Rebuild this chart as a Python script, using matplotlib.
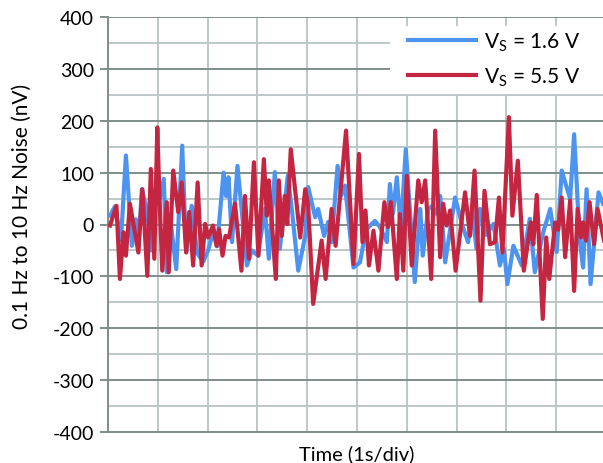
import matplotlib
matplotlib.use("Agg")
import matplotlib.pyplot as plt
from matplotlib.patches import Rectangle
from matplotlib.ticker import MultipleLocator, NullFormatter

plt.rcParams['font.family'] = ['Lato', 'DejaVu Sans']
plt.rcParams['mathtext.fontset'] = 'custom'
plt.rcParams['mathtext.rm'] = 'Lato'
plt.rcParams['axes.unicode_minus'] = False

# Tempo (s) e ruido (nV)
t_16 = [0.04, 0.14, 0.26, 0.36, 0.48, 0.56, 0.61, 0.68, 0.78, 0.87, 0.94, 1.04,
        1.12, 1.18, 1.27, 1.37, 1.49, 1.57, 1.68, 1.79, 1.91, 2.01, 2.11, 2.19,
        2.32, 2.37, 2.42, 2.49, 2.60, 2.79, 2.89, 3.01, 3.15, 3.23, 3.35, 3.45,
        3.61, 3.69, 3.82, 3.96, 4.02, 4.16, 4.22, 4.34, 4.42, 4.49, 4.61, 4.68,
        4.76, 4.93, 5.06, 5.18, 5.36, 5.46, 5.60, 5.66, 5.72, 5.80, 5.88, 5.98,
        6.16, 6.27, 6.32, 6.43, 6.51, 6.60, 6.67, 6.77, 6.97, 7.11, 7.23, 7.31,
        7.40, 7.47, 7.59, 7.74, 7.87, 7.95, 8.02, 8.14, 8.31, 8.47, 8.57, 8.74,
        8.88, 9.01, 9.11, 9.28, 9.36, 9.47, 9.54, 9.61, 9.69, 9.85, 9.94]
ruido_16 = [17, 35, -30, 133, -41, 10, -45, 68, 30, -50, 63, 52,
            88, -92, -5, -86, 152, -53, 36, -55, -72, -50, -15, -42,
            100, 55, 91, -34, 113, -79, -50, -60, 30, -66, 101, -47,
            94, 30, -89, -22, 72, 14, 30, -22, 5, -34, 113, 55,
            75, -83, -73, -10, 7, -5, -34, 78, 20, 91, -10, 145,
            -111, 30, -60, 30, 36, 20, 55, -73, 52, 0, -34, 30,
            -47, 30, -20, 1, -79, -47, -115, -41, -79, 11, -92, -15,
            30, -53, 104, 49, 174, -28, -83, 68, -115, 62, 40]

t_55 = [0.04, 0.17, 0.24, 0.31, 0.36, 0.44, 0.61, 0.69, 0.79, 0.86, 0.93, 0.99,
        1.03, 1.09, 1.18, 1.22, 1.31, 1.41, 1.48, 1.57, 1.63, 1.71, 1.80, 1.88,
        1.95, 2.01, 2.11, 2.18, 2.23, 2.30, 2.36, 2.43, 2.55, 2.68, 2.75, 2.83,
        2.93, 3.02, 3.13, 3.19, 3.23, 3.37, 3.43, 3.49, 3.55, 3.60, 3.67, 3.86,
        3.96, 4.02, 4.12, 4.29, 4.37, 4.49, 4.57, 4.78, 4.93, 5.04, 5.11, 5.17,
        5.24, 5.33, 5.43, 5.55, 5.62, 5.68, 5.80, 5.86, 5.93, 6.00, 6.10, 6.23,
        6.30, 6.37, 6.49, 6.57, 6.67, 6.73, 6.80, 6.87, 6.98, 7.17, 7.27, 7.36,
        7.48, 7.56, 7.67, 7.77, 7.85, 7.92, 8.05, 8.12, 8.23, 8.35, 8.49, 8.54,
        8.61, 8.73, 8.80, 8.86, 8.98, 9.04, 9.11, 9.18, 9.28, 9.36, 9.43, 9.50,
        9.54, 9.60, 9.67, 9.76, 9.83, 9.96]
ruido_55 = [-2, 36, -105, -15, -60, 40, -54, 68, -99, 107, -66, 187,
            62, -89, 43, -92, 104, 24, 81, -54, 24, -79, 81, -79,
            1, -25, -2, -41, -9, -60, -22, -25, 40, -89, 55, -66,
            120, -60, 126, 17, 85, -105, 85, -22, 55, 1, 145, -25,
            68, 36, -153, -31, -105, 30, -41, 181, -76, 136, -34, 27,
            -79, -12, -89, 43, -5, 43, -105, 20, -89, 94, -79, 85,
            43, 85, -105, 181, -63, 40, -2, 27, -89, 62, -22, 104,
            -147, 65, -38, -34, 52, -54, 207, 17, 123, -89, 4, -38,
            57, -182, -25, -105, 4, -10, 52, -63, 46, -128, 30, -25,
            4, -31, 43, -38, 30, -31]

legendas = [r'V$_\mathregular{S}$ = 1.6 V', r'V$_\mathregular{S}$ = 5.5 V']
cores = ['#4D94F0', '#C42541']

fig = plt.figure(figsize=(6.03, 4.64), dpi=100)
ax = fig.add_axes([108 / 603, 31 / 464, 498 / 603, 415 / 464])

ax.plot(t_16, ruido_16, color=cores[0], linewidth=3, solid_joinstyle='round',
        label=legendas[0], zorder=3)
ax.plot(t_55, ruido_55, color=cores[1], linewidth=3, solid_joinstyle='round',
        label=legendas[1], zorder=4)

ax.set_xlim(0, 10)
ax.set_ylim(-400, 400)
ax.xaxis.set_major_locator(MultipleLocator(1))
ax.xaxis.set_major_formatter(NullFormatter())
ax.yaxis.set_major_locator(MultipleLocator(100))
ax.yaxis.set_minor_locator(MultipleLocator(50))

ax.grid(axis='x', which='major', color='#BCC8C8', linewidth=1.4)
ax.grid(axis='y', which='major', color='#7F8D8B', linewidth=1.4)
ax.grid(axis='y', which='minor', color='#BCC8C8', linewidth=1.4)
ax.set_axisbelow(True)

ax.tick_params(axis='x', length=0)
ax.tick_params(axis='y', which='major', length=6, width=1.4, color='#7F8D8B',
               labelsize=14, pad=4)
ax.tick_params(axis='y', which='minor', length=0)

for lado in ['top', 'right']:
    ax.spines[lado].set_visible(False)
ax.spines['left'].set_color('#7F8D8B')
ax.spines['left'].set_linewidth(1.4)
ax.spines['bottom'].set_color('#7F8D8B')
ax.spines['bottom'].set_linewidth(1.4)

ax.set_ylabel('0.1 Hz to 10 Hz Noise (nV)', fontsize=15)
ax.yaxis.set_label_coords(-0.152, 0.545)
ax.set_xlabel('Time (1s/div)', fontsize=14.5, labelpad=5)

# fundo branco da legenda
fundo = Rectangle((390 / 603, 1 - 95 / 464), 216 / 603, 68 / 464,
                  transform=fig.transFigure, facecolor='white',
                  edgecolor='none', zorder=5)
ax.add_artist(fundo)

leg = ax.legend(loc='upper right', bbox_to_anchor=(580 / 603, 1 - 31 / 464),
                bbox_transform=fig.transFigure, borderaxespad=0, borderpad=0,
                fontsize=15, handlelength=3.3, handletextpad=0.35,
                labelspacing=0.6, frameon=False)
leg.set_zorder(6)
for linha in leg.get_lines():
    linha.set_linewidth(3)

fig.savefig('out.png', dpi=100)
